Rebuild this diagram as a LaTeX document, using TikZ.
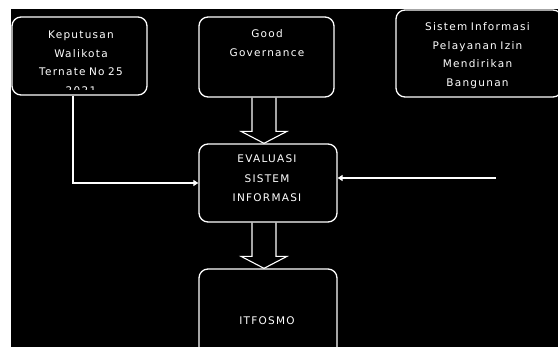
\documentclass[tikz,border=0pt]{standalone}
\usepackage{fontspec}
\setmainfont{DejaVu Sans}[LetterSpace=12]
\usetikzlibrary{arrows.meta,calc}
\begin{document}
\begin{tikzpicture}[x=1pt,y=-1pt,
  box/.style={draw=white, line width=1.3pt, rounded corners=9pt, fill=black, inner sep=0pt},
  txt/.style={text=white, align=center, text width=160pt, inner sep=0pt, anchor=base,
    font=\fontsize{10.5}{18.5}\selectfont},
  conn/.style={draw=white, line width=1.4pt, -{Triangle[length=5pt,width=6pt]}},
  blk/.style={draw=white, line width=1.1pt, line join=miter}]
\useasboundingbox (0,0) rectangle (558,347);
\clip (0,0) rectangle (558,347);
\fill[white] (0,0) rectangle (558,347);
\fill[black] (11,9) rectangle (558,347);

% boxes
\node[box, minimum width=135pt, minimum height=78pt] (b1) at (79.5,56) {};
\node[box, minimum width=135pt, minimum height=80pt] (b2) at (266.5,57) {};
\node[box, minimum width=166pt, minimum height=87pt] (b3) at (479,53.5) {};
\node[box, minimum width=138pt, minimum height=78pt] (ev) at (268,183) {};
\node[box, minimum width=138pt, minimum height=91pt] (it) at (268,314.5) {};

% texts
\begin{scope}
  \clip (12,17) rectangle (147,90);
  \node[txt] (t1) at (81,39) {Keputusan\\Walikota\\Ternate No 25\\2021};
\end{scope}
\node[txt] (t2) at (267,38) {Good\\Governance};
\node[txt] (t3) at (477.5,31) {Sistem Informasi\\Pelayanan Izin\\Mendirikan\\Bangunan};
\node[txt, font=\fontsize{10.5}{19.5}\selectfont] (t4) at (267,163) {EVALUASI\\SISTEM\\INFORMASI};
\node[txt] (t5) at (267,325) {ITFOSMO};

% block arrows
\coordinate (a1) at ($(ev.north)+(-4,0)$);
\draw[blk] ($(b2.south -| a1)+(-12,0)$) -- ($(a1)+(-12,-12)$) -- ($(a1)+(-23,-12)$) -- (a1)
  -- ($(a1)+(23,-12)$) -- ($(a1)+(12,-12)$) -- ($(b2.south -| a1)+(12,0)$);
\coordinate (a2) at ($(it.north)+(-4,0)$);
\draw[blk] ($(ev.south -| a2)+(-12,0)$) -- ($(a2)+(-12,-12)$) -- ($(a2)+(-23,-12)$) -- (a2)
  -- ($(a2)+(23,-12)$) -- ($(a2)+(12,-12)$) -- ($(ev.south -| a2)+(12,0)$);

% connectors
\draw[conn] ([xshift=-6.5pt]b1.south) |- (ev.west);
\coordinate (src) at (496,178);
\draw[conn] (src) -- ([yshift=5pt]ev.east);
\end{tikzpicture}
\end{document}
